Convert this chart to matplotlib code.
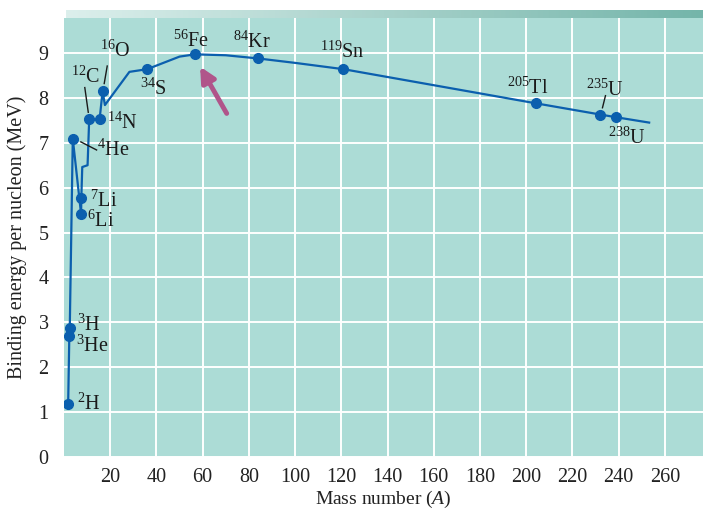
import numpy as np
import matplotlib.pyplot as plt

plt.rcParams['font.family'] = ['Liberation Serif', 'DejaVu Serif']
plt.rcParams['mathtext.fontset'] = 'custom'
plt.rcParams['mathtext.rm'] = 'Liberation Serif'
plt.rcParams['mathtext.it'] = 'Liberation Serif:italic'

# curve traced through the nuclides (mass number, MeV per nucleon)
curve_A = [1.8, 2.3, 2.5, 3.8, 7.4, 7.5, 7.9, 10.2, 10.9, 15.4, 16.7, 17.7,
           28.3, 36.0, 45.0, 50.0, 56.7, 70.0, 83.8, 100.0, 120.9, 204.1,
           232.0, 238.8, 253.2]
curve_BE = [1.18, 2.70, 2.88, 7.09, 5.41, 5.78, 6.46, 6.50, 7.52, 7.52, 8.15, 7.84,
            8.58, 8.64, 8.82, 8.92, 8.97, 8.95, 8.88, 8.78, 8.64, 7.88,
            7.63, 7.57, 7.45]

# labelled nuclides
nuclides = ['$^{2}$H', '$^{3}$He', '$^{3}$H', '$^{4}$He', '$^{6}$Li', '$^{7}$Li',
            '$^{12}$C', '$^{14}$N', '$^{16}$O', '$^{34}$S', '$^{56}$Fe', '$^{84}$Kr',
            '$^{119}$Sn', '$^{205}$Tl', '$^{235}$U', '$^{238}$U']
nuc_A = [1.8, 2.3, 2.5, 3.8, 7.4, 7.5, 10.9, 15.4, 16.7, 36.0, 56.7, 83.8,
         120.9, 204.1, 232.0, 238.8]
nuc_BE = [1.18, 2.70, 2.88, 7.09, 5.41, 5.78, 7.52, 7.52, 8.15, 8.64, 8.97, 8.88,
          8.64, 7.88, 7.63, 7.57]
label_A = [5.6, 5.4, 5.8, 14.4, 9.9, 11.2, 3.0, 18.4, 15.5, 32.9, 47.0, 73.2,
           110.8, 191.9, 225.9, 235.3]
label_BE = [1.18, 2.46, 2.94, 6.84, 5.26, 5.69, 8.47, 7.43, 9.03, 8.19, 9.27, 9.24,
            9.02, 8.21, 8.17, 7.10]

x_ticks = list(range(20, 261, 20))
y_ticks = list(range(0, 10))

blue = '#0b5fae'
fig = plt.figure(figsize=(7.03, 5.12), dpi=100)
ax = fig.add_axes([64 / 703, 55 / 512, 639 / 703, 439 / 512])
ax.set_facecolor('#acdcd6')
ax.set_xlim(0, 276.5)
ax.set_ylim(0, 9.78)
ax.set_xticks(x_ticks)
ax.set_yticks(y_ticks)
ax.grid(True, color='white', linewidth=1.4)
ax.set_axisbelow(True)
ax.tick_params(length=0, labelsize=14.5, colors='#222222')
ax.tick_params(axis='x', pad=8)
ax.tick_params(axis='y', pad=11)
for s in ax.spines.values():
    s.set_visible(False)

ax.plot(curve_A, curve_BE, color=blue, lw=1.6, zorder=3)
ax.plot(nuc_A, nuc_BE, 'o', color=blue, ms=7, zorder=4)

for name, xa, yb in zip(nuclides, label_A, label_BE):
    ax.text(xa, yb, name, fontsize=14.5, ha='left', va='center', color='#1a1a1a')

# leader lines for crowded labels
leaders = [((7.3, 7.02), (14.1, 6.84)), ((9.0, 8.23), (10.5, 7.68)),
           ((18.7, 8.71), (17.4, 8.32)), ((234.3, 8.05), (233.0, 7.78))]
for (x1, y1), (x2, y2) in leaders:
    ax.plot([x1, x2], [y1, y2], color='#1a1a1a', lw=1.0, zorder=3)

ax.annotate('', xy=(58.3, 8.75), xytext=(71.0, 7.6),
            arrowprops=dict(arrowstyle='-|>,head_length=0.9,head_width=0.45',
                            color='#b0558a', lw=3.5))

ax.set_xlabel('Mass number ($A$)', fontsize=14, color='#222222', labelpad=1)
ax.set_ylabel('Binding energy per nucleon (MeV)', fontsize=14.5, color='#222222', labelpad=8)

# shaded band along the top of the plot
band = fig.add_axes([66 / 703, 494 / 512, 637 / 703, 8 / 512])
band.imshow(np.linspace(0, 1, 256)[None, :], aspect='auto', cmap=plt.matplotlib.colors.LinearSegmentedColormap.from_list('b', ['#dcefec', '#74b5aa']))
band.axis('off')

fig.savefig('out.png', dpi=100)
